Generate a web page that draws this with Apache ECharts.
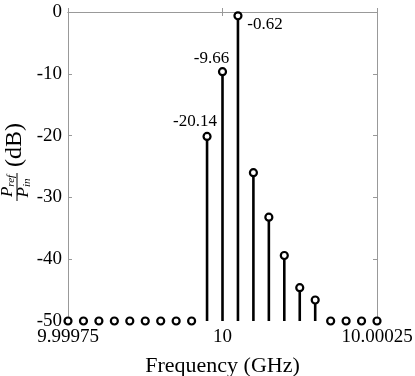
<!DOCTYPE html>
<html>
<head>
<meta charset="utf-8">
<script src="https://cdn.jsdelivr.net/npm/echarts@6/dist/echarts.min.js"></script>
<style>
  html, body { margin: 0; padding: 0; background: #fff; }
  #chart { width: 415px; height: 376px; }
</style>
</head>
<body>
<div id="chart"></div>
<script>
// frequency of each spectral line (GHz)
const freqGHz = [
  9.99975, 9.999775, 9.9998, 9.999825, 9.99985, 9.999875, 9.9999,
  9.999925, 9.99995, 9.999975, 10, 10.000025, 10.00005, 10.000075,
  10.0001, 10.000125, 10.00015, 10.000175, 10.0002, 10.000225, 10.00025
];
// reflected / incident power (dB), floor at -50
const powerDb = [
  -50, -50, -50, -50, -50, -50, -50, -50, -50,
  -20.14, -9.66, -0.62, -26.0, -33.2, -39.4, -44.6, -46.6,
  -50, -50, -50, -50
];
const xTickValues = [9.99975, 10, 10.00025];
const xTickLabels = ["9.99975", "10", "10.00025"];
const yMin = -50, yMax = 0, yStep = 10;
const labeledIdx = [9, 10, 11];

const FONT = "Liberation Serif";
const frameColor = "#999";
// where each value label sits relative to its point
const labelOffset = { 9: [-12, -15], 10: [-11, -13], 11: [27, 9] };

const chart = echarts.init(document.getElementById("chart"));

const points = freqGHz.map((f, i) => {
  const item = { value: [f, powerDb[i]] };
  if (labeledIdx.indexOf(i) >= 0) {
    item.label = {
      show: true,
      position: "inside",
      offset: labelOffset[i],
      formatter: powerDb[i].toFixed(2),
      fontFamily: FONT,
      fontSize: 17,
      color: "#000"
    };
  }
  return item;
});

const axisCommon = {
  axisLine: { show: true, lineStyle: { color: frameColor, width: 1 } },
  axisTick: { show: true, inside: true, length: 4, lineStyle: { color: frameColor } },
  splitLine: { show: false }
};

const option = {
  animation: false,
  backgroundColor: "#fff",
  textStyle: { fontFamily: FONT },
  grid: { left: 68, right: 38, top: 12, bottom: 55, outerBoundsMode: "none", containLabel: false },
  xAxis: [
    Object.assign({}, axisCommon, {
      type: "value",
      position: "bottom",
      min: 9.99975,
      max: 10.00025,
      axisTick: Object.assign({}, axisCommon.axisTick, { customValues: xTickValues }),
      axisLabel: {
        customValues: xTickValues,
        formatter: v => xTickLabels[xTickValues.findIndex(t => Math.abs(t - v) < 1e-9)],
        fontFamily: FONT,
        fontSize: 19,
        color: "#000",
        margin: 7
      },
      name: "Frequency (GHz)",
      nameLocation: "middle",
      nameGap: 34,
      nameTextStyle: { fontFamily: FONT, fontSize: 22, color: "#000" }
    }),
    Object.assign({}, axisCommon, {
      type: "value",
      position: "top",
      min: 9.99975,
      max: 10.00025,
      axisTick: Object.assign({}, axisCommon.axisTick, { customValues: xTickValues }),
      axisLabel: { show: false }
    })
  ],
  yAxis: [
    Object.assign({}, axisCommon, {
      type: "value",
      position: "left",
      min: yMin,
      max: yMax,
      interval: yStep,
      axisLabel: { fontFamily: FONT, fontSize: 19, color: "#000", margin: 6 }
    }),
    Object.assign({}, axisCommon, {
      type: "value",
      position: "right",
      min: yMin,
      max: yMax,
      interval: yStep,
      axisLabel: { show: false }
    })
  ],
  graphic: [
    {
      type: "text",
      x: 15, y: 145, rotation: Math.PI / 2,
      style: {
        text: "(dB)", fontFamily: FONT, fontSize: 24, fill: "#000",
        textAlign: "center", textVerticalAlign: "middle"
      }
    },
    {
      type: "text",
      x: 8, y: 186, rotation: Math.PI / 2,
      style: {
        text: "{p|P}{s|ref}", textAlign: "center", textVerticalAlign: "middle",
        rich: {
          p: { fontFamily: FONT, fontStyle: "italic", fontSize: 17, lineHeight: 18, fill: "#000" },
          s: { fontFamily: FONT, fontStyle: "italic", fontSize: 11, lineHeight: 9, verticalAlign: "bottom", fill: "#000" }
        }
      }
    },
    {
      type: "line",
      shape: { x1: 17, y1: 173, x2: 17, y2: 201 },
      style: { stroke: "#000", lineWidth: 1 }
    },
    {
      type: "text",
      x: 24, y: 188, rotation: Math.PI / 2,
      style: {
        text: "{p|P}{s|in}", textAlign: "center", textVerticalAlign: "middle",
        rich: {
          p: { fontFamily: FONT, fontStyle: "italic", fontSize: 17, lineHeight: 18, fill: "#000" },
          s: { fontFamily: FONT, fontStyle: "italic", fontSize: 11, lineHeight: 9, verticalAlign: "bottom", fill: "#000" }
        }
      }
    }
  ],
  series: [
    {
      // stems from the floor up to each value
      type: "custom",
      xAxisIndex: 0,
      yAxisIndex: 0,
      clip: false,
      data: freqGHz.map((f, i) => [f, powerDb[i]]),
      renderItem: (params, api) => {
        const top = api.coord([api.value(0), api.value(1)]);
        const base = api.coord([api.value(0), yMin]);
        return {
          type: "line",
          shape: { x1: base[0], y1: base[1], x2: top[0], y2: top[1] },
          style: { stroke: "#000", lineWidth: 2.6 }
        };
      },
      z: 2
    },
    {
      type: "scatter",
      xAxisIndex: 0,
      yAxisIndex: 0,
      clip: false,
      symbol: "circle",
      symbolSize: 7,
      itemStyle: { color: "#fff", borderColor: "#000", borderWidth: 2.2, opacity: 1 },
      data: points,
      z: 3
    }
  ]
};

chart.setOption(option);
</script>
</body>
</html>
